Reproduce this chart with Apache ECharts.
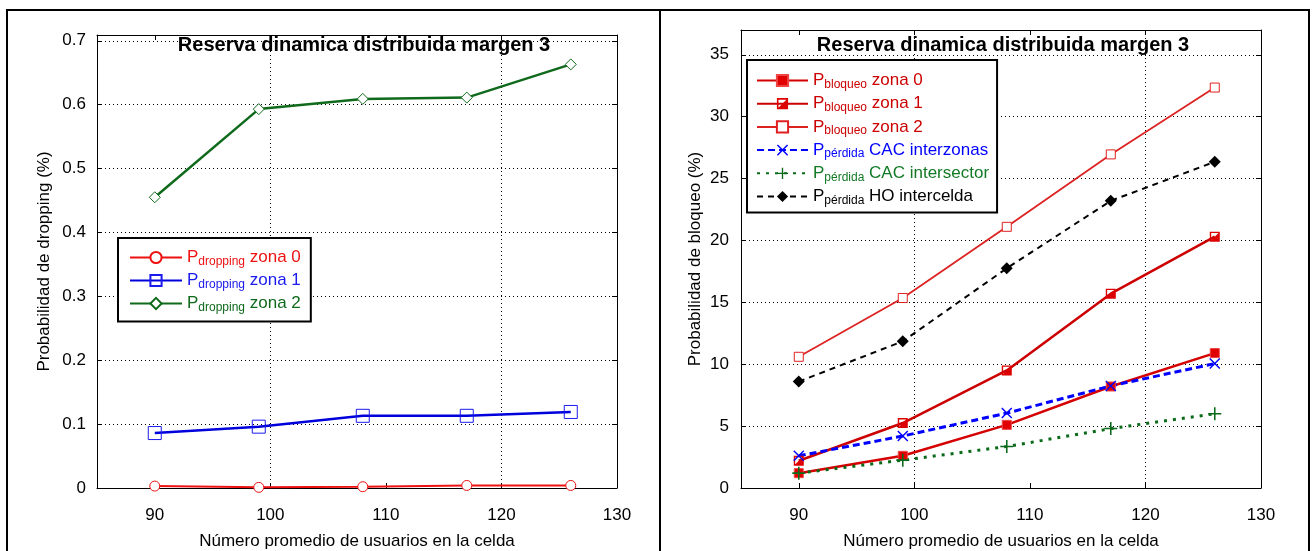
<!DOCTYPE html>
<html>
<head>
<meta charset="utf-8">
<script src="https://cdn.jsdelivr.net/npm/echarts@6/dist/echarts.min.js"></script>
<style>html,body{margin:0;padding:0;background:#fff}#c{width:1313px;height:551px}</style>
</head>
<body>
<div id="c"></div>
<script>
// ---------- data ----------
const usuarios = [90, 99, 108, 117, 126];
const xTicks = [90, 100, 110, 120, 130];
const tituloGrafico = 'Reserva dinamica distribuida margen 3';
const xNombre = 'Número promedio de usuarios en la celda';
const yNombreIzq = 'Probabilidad de dropping (%)';
const yNombreDer = 'Probabilidad de bloqueo (%)';

// left chart
const nombresIzq = ['P_dropping zona 0', 'P_dropping zona 1', 'P_dropping zona 2'];
const dropZona0 = [0.003, 0.001, 0.002, 0.004, 0.004];
const dropZona1 = [0.086, 0.096, 0.113, 0.113, 0.119];
const dropZona2 = [0.455, 0.593, 0.609, 0.611, 0.663];

// right chart
const nombresDer = ['P_bloqueo zona 0', 'P_bloqueo zona 1', 'P_bloqueo zona 2',
  'P_pérdida CAC interzonas', 'P_pérdida CAC intersector', 'P_pérdida HO intercelda'];
const bloqZona0 = [1.2, 2.6, 5.1, 8.2, 10.9];
const bloqZona1 = [2.2, 5.25, 9.5, 15.7, 20.3];
const bloqZona2 = [10.6, 15.35, 21.1, 26.95, 32.35];
const cacInterzonas = [2.6, 4.2, 6.05, 8.25, 10.05];
const cacIntersector = [1.2, 2.25, 3.35, 4.8, 6.0];
const hoIntercelda = [8.6, 11.85, 17.75, 23.2, 26.35];

// ---------- helpers ----------
const FONT = 'Liberation Sans, Arial, Helvetica, sans-serif';
const pares = ys => usuarios.map((x, i) => [x, ys[i]]);
const SYM_X = 'path://M0,9 L9,0 L50,41 L91,0 L100,9 L59,50 L100,91 L91,100 L50,59 L9,100 L0,91 L41,50 Z';
const SYM_PLUS = 'path://M44,0 L56,0 L56,44 L100,44 L100,56 L56,56 L56,100 L44,100 L44,56 L0,56 L0,44 L44,44 Z';
const SYM_HALF = 'path://M0,0 L100,0 L100,100 L0,100 Z M14,14 L14,86 L86,86 L86,14 Z M100,0 L100,100 L0,100 Z';

function leyendaFmt(name) {
  const m = name.match(/^P_(\S+)(.*)$/);
  return '{p|P}{s|' + m[1] + '}{t|' + m[2] + '}';
}
const richLeyenda = {
  p: { fontSize: 17, lineHeight: 20, fontFamily: FONT },
  s: { fontSize: 12, lineHeight: 11, verticalAlign: 'bottom', fontFamily: FONT },
  t: { fontSize: 17, lineHeight: 20, fontFamily: FONT }
};

function ejes(grid) {
  return {
    bottom: {
      type: 'value', gridIndex: grid, position: 'bottom', min: 85, max: 130, interval: 5,
      axisLine: { show: true, onZero: false, lineStyle: { color: '#000', width: 1 } },
      axisTick: { show: true, inside: true, length: 5, customValues: xTicks, lineStyle: { color: '#000' } },
      axisLabel: { show: true, customValues: xTicks, color: '#000', fontSize: 17, fontFamily: FONT, margin: 19 },
      splitLine: { show: true, lineStyle: { color: ['rgba(0,0,0,0)', '#000'], type: [1, 3], width: 1 } },
      name: xNombre, nameLocation: 'middle', nameGap: 45,
      nameTextStyle: { color: '#000', fontSize: 17, fontFamily: FONT }
    },
    top: {
      type: 'value', gridIndex: grid, position: 'top', min: 85, max: 130, interval: 5,
      axisLine: { show: true, onZero: false, lineStyle: { color: '#000', width: 1 } },
      axisTick: { show: true, inside: true, length: 5, customValues: xTicks, lineStyle: { color: '#000' } },
      axisLabel: { show: false }, splitLine: { show: false }
    }
  };
}

const xIzq = ejes(0);
const xDer = ejes(1);

function yEje(grid, max, interval, nombre, gap, margin) {
  return [{
    type: 'value', gridIndex: grid, position: 'left', min: 0, max: max, interval: interval,
    axisLine: { show: true, onZero: false, lineStyle: { color: '#000', width: 1 } },
    axisTick: { show: true, inside: true, length: 5, lineStyle: { color: '#000' } },
    axisLabel: { show: true, showMaxLabel: false, color: '#000', fontSize: 17, fontFamily: FONT, margin: margin },
    splitLine: { show: true, lineStyle: { color: '#000', type: [1, 3], width: 1 } },
    name: nombre, nameLocation: 'middle', nameGap: gap,
    nameTextStyle: { color: '#000', fontSize: 17, fontFamily: FONT }
  }, {
    type: 'value', gridIndex: grid, position: 'right', min: 0, max: max, interval: interval,
    axisLine: { show: true, onZero: false, lineStyle: { color: '#000', width: 1 } },
    axisTick: { show: true, inside: true, length: 5, lineStyle: { color: '#000' } },
    axisLabel: { show: false }, splitLine: { show: false }
  }];
}

const yIzq = yEje(0, 0.709, 0.1, yNombreIzq, 44, 11);
const yDer = yEje(1, 37, 5, yNombreDer, 37, 12);

function serie(nombre, ys, xi, yi, color, lw, ltype, symbol, size, fill, border) {
  return {
    name: nombre, type: 'line', xAxisIndex: xi, yAxisIndex: yi, data: pares(ys),
    symbol: symbol, symbolSize: size, showSymbol: true, animation: false,
    lineStyle: { color: color, width: lw, type: ltype },
    itemStyle: { color: fill, borderColor: border, borderWidth: border ? 1 : 0 },
    emphasis: { disabled: true }, z: 3
  };
}

const cRojoIzq = '#ee1111', cAzulIzq = '#0000dd', cVerdeIzq = '#0f6a1c';
const cRojo0 = '#d50000', cRojo1 = '#cc0000', cRojo2 = '#dd2222';
const cAzul = '#0000ff', cVerde = '#0a6a1a', cNegro = '#000000';

const series = [
  serie(nombresIzq[0], dropZona0, 0, 0, cRojoIzq, 2, 'solid', 'circle', 10, '#fff', cRojoIzq),
  serie(nombresIzq[1], dropZona1, 0, 0, cAzulIzq, 2.5, 'solid', 'rect', 13, 'rgba(255,255,255,0)', '#1a1aee'),
  serie(nombresIzq[2], dropZona2, 0, 0, cVerdeIzq, 2.5, 'solid', 'diamond', 11, '#fff', cVerdeIzq),
  serie(nombresDer[0], bloqZona0, 2, 2, cRojo0, 2.5, 'solid', 'rect', 9, '#e00000', '#ee4444'),
  serie(nombresDer[1], bloqZona1, 2, 2, cRojo1, 2.5, 'solid', SYM_HALF, 10, '#dd0000', null),
  serie(nombresDer[2], bloqZona2, 2, 2, cRojo2, 1.8, 'solid', 'rect', 9, '#fff', '#e02020'),
  serie(nombresDer[3], cacInterzonas, 2, 2, cAzul, 3, [7, 4], SYM_X, 11, '#0000ff', null),
  serie(nombresDer[4], cacIntersector, 2, 2, cVerde, 3, [3, 6], SYM_PLUS, 13, '#0a6a1a', null),
  serie(nombresDer[5], hoIntercelda, 2, 2, cNegro, 2, [6, 5], 'diamond', 12, '#000', null)
];

const legendColorsIzq = [cRojoIzq, '#1a1aee', cVerdeIzq];
const legendColorsDer = [cRojo1, cRojo1, cRojo1, cAzul, '#127a25', cNegro];

const option = {
  backgroundColor: '#fff',
  animation: false,
  textStyle: { fontFamily: FONT },
  title: [
    { text: tituloGrafico, left: 364, top: 35, textAlign: 'center', padding: 0,
      textStyle: { fontSize: 20, fontWeight: 'bold', color: '#000', fontFamily: FONT } },
    { text: tituloGrafico, left: 1003, top: 35, textAlign: 'center', padding: 0,
      textStyle: { fontSize: 20, fontWeight: 'bold', color: '#000', fontFamily: FONT } }
  ],
  grid: [
    { left: 97, right: 1313 - 617, top: 35, bottom: 63, show: false, outerBoundsMode: 'none', containLabel: false },
    { left: 741, right: 52, top: 30, bottom: 63, show: false, outerBoundsMode: 'none', containLabel: false }
  ],
  xAxis: [xIzq.bottom, xIzq.top, xDer.bottom, xDer.top],
  yAxis: [yIzq[0], yIzq[1], yDer[0], yDer[1]],
  legend: [
    {
      data: nombresIzq.map((n, i) => ({ name: n, textStyle: { color: legendColorsIzq[i] } })),
      orient: 'vertical', left: 118, top: 238, selectedMode: false,
      itemWidth: 52, itemHeight: 14, itemGap: 4.5,
      padding: [11, 10, 8, 11], backgroundColor: '#fff', borderColor: '#000', borderWidth: 2,
      formatter: leyendaFmt, textStyle: { fontSize: 17, fontFamily: FONT, rich: richLeyenda }
    },
    {
      data: nombresDer.map((n, i) => ({ name: n, textStyle: { color: legendColorsDer[i] } })),
      orient: 'vertical', left: 747, top: 60, selectedMode: false,
      itemWidth: 51, itemHeight: 14, itemGap: 4.7,
      padding: [12, 8, 6, 9], backgroundColor: '#fff', borderColor: '#000', borderWidth: 2,
      formatter: leyendaFmt, textStyle: { fontSize: 17, fontFamily: FONT, rich: richLeyenda }
    }
  ],
  graphic: [
    { type: 'rect', shape: { x: 7, y: 10, width: 653, height: 560 }, style: { fill: null, stroke: '#000', lineWidth: 2 }, silent: true, z: 10 },
    { type: 'rect', shape: { x: 660, y: 10, width: 649, height: 560 }, style: { fill: null, stroke: '#000', lineWidth: 2 }, silent: true, z: 10 }
  ],
  series: series
};

const chart = echarts.init(document.getElementById('c'), null, { renderer: 'canvas' });
chart.setOption(option);
</script>
</body>
</html>
